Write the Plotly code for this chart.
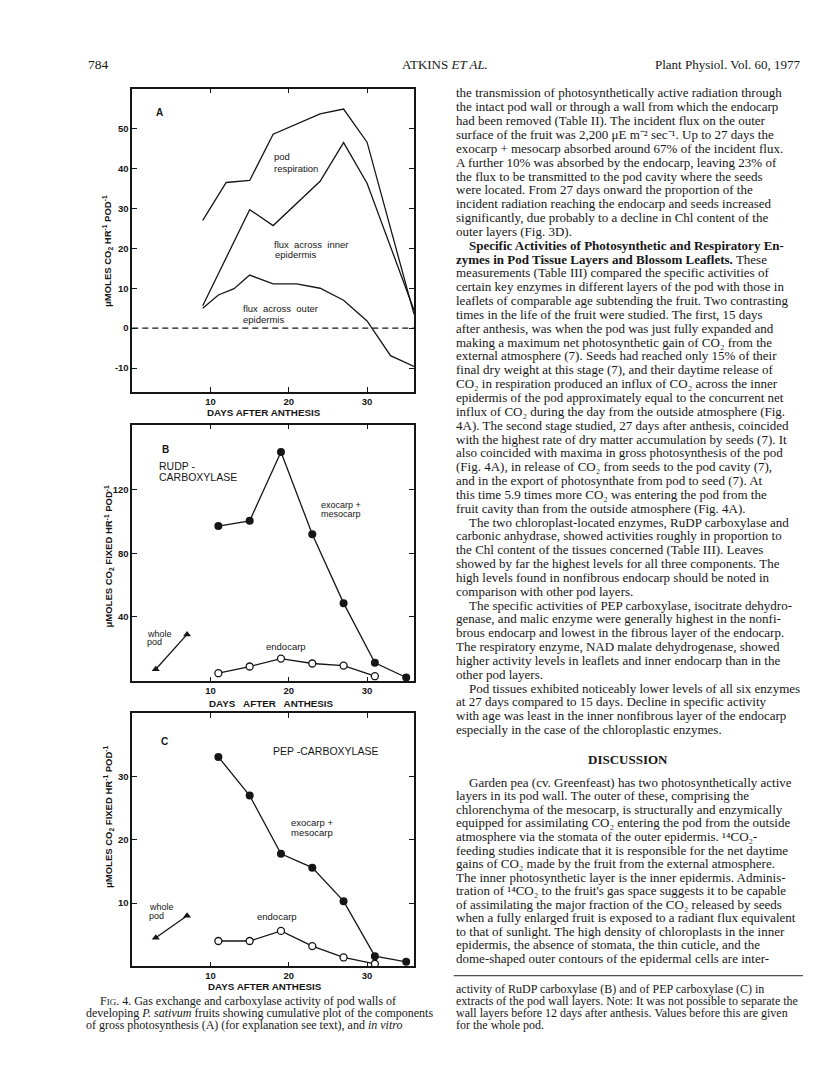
"""Fig. 4 of Atkins et al. (Plant Physiol. 60, 1977): gas exchange and
carboxylase activity of pod walls of developing P. sativum fruits,
laid out as the printed page.
"""

import plotly.graph_objects as go

# ---- panel A: cumulative components of gross photosynthesis ----
A_OUTER_DAYS = [9, 11, 13, 15, 18, 21, 24, 27, 30, 33, 36]
A_OUTER = [5.0, 8.3, 9.9, 13.3, 11.1, 11.1, 10.0, 7.0, 1.8, -6.9, -9.6]
A_INNER_DAYS = [9, 15, 18, 24, 27, 30, 36]
A_INNER = [5.6, 29.7, 25.7, 36.8, 46.5, 36.3, 4.5]
A_RESP_DAYS = [9, 12, 15, 18, 24, 27, 30, 36]
A_RESP = [27.0, 36.5, 37.0, 48.6, 53.7, 54.9, 46.6, 3.5]

# ---- panels B and C: carboxylase activity ----
ENZ_DAYS = [11, 15, 19, 23, 27, 31, 35]
ENDO_DAYS = [11, 15, 19, 23, 27, 31]
WHOLE_DAYS = [3, 7]

B_EXO = [97.2, 100.5, 143.8, 92.0, 48.7, 11.1, 1.9]
B_ENDO = [4.6, 8.8, 13.8, 10.7, 9.4, 2.7]
B_WHOLE = [7.1, 29.0]

C_EXO = [33.1, 27.0, 17.8, 15.6, 10.3, 1.6, 0.7]
C_ENDO = [4.0, 4.0, 5.6, 3.2, 1.4, 0.4]
C_WHOLE = [4.5, 8.0]

X_TICKS = [10, 20, 30]
A_YTICKS = [-10, 0, 10, 20, 30, 40, 50]
B_YTICKS = [40, 80, 120]
C_YTICKS = [10, 20, 30]

# ---- page text ----
BODY_LINES = [
    "the transmission of photosynthetically active radiation through",
    "the intact pod wall or through a wall from which the endocarp",
    "had been removed (Table II). The incident flux on the outer",
    "surface of the fruit was 2,200 \u03bcE m\u207b\u00b2 sec\u207b\u00b9. Up to 27 days the",
    "exocarp + mesocarp absorbed around 67% of the incident flux.",
    "A further 10% was absorbed by the endocarp, leaving 23% of",
    "the flux to be transmitted to the pod cavity where the seeds",
    "were located. From 27 days onward the proportion of the",
    "incident radiation reaching the endocarp and seeds increased",
    "significantly, due probably to a decline in Chl content of the",
    "outer layers (Fig. 3D).",
    "<b>Specific Activities of Photosynthetic and Respiratory En-</b>",
    "<b>zymes in Pod Tissue Layers and Blossom Leaflets.</b> These",
    "measurements (Table III) compared the specific activities of",
    "certain key enzymes in different layers of the pod with those in",
    "leaflets of comparable age subtending the fruit. Two contrasting",
    "times in the life of the fruit were studied. The first, 15 days",
    "after anthesis, was when the pod was just fully expanded and",
    "making a maximum net photosynthetic gain of CO\u2082 from the",
    "external atmosphere (7). Seeds had reached only 15% of their",
    "final dry weight at this stage (7), and their daytime release of",
    "CO\u2082 in respiration produced an influx of CO\u2082 across the inner",
    "epidermis of the pod approximately equal to the concurrent net",
    "influx of CO\u2082 during the day from the outside atmosphere (Fig.",
    "4A). The second stage studied, 27 days after anthesis, coincided",
    "with the highest rate of dry matter accumulation by seeds (7). It",
    "also coincided with maxima in gross photosynthesis of the pod",
    "(Fig. 4A), in release of CO\u2082 from seeds to the pod cavity (7),",
    "and in the export of photosynthate from pod to seed (7). At",
    "this time 5.9 times more CO\u2082 was entering the pod from the",
    "fruit cavity than from the outside atmosphere (Fig. 4A).",
    "The two chloroplast-located enzymes, RuDP carboxylase and",
    "carbonic anhydrase, showed activities roughly in proportion to",
    "the Chl content of the tissues concerned (Table III). Leaves",
    "showed by far the highest levels for all three components. The",
    "high levels found in nonfibrous endocarp should be noted in",
    "comparison with other pod layers.",
    "The specific activities of PEP carboxylase, isocitrate dehydro-",
    "genase, and malic enzyme were generally highest in the nonfi-",
    "brous endocarp and lowest in the fibrous layer of the endocarp.",
    "The respiratory enzyme, NAD malate dehydrogenase, showed",
    "higher activity levels in leaflets and inner endocarp than in the",
    "other pod layers.",
    "Pod tissues exhibited noticeably lower levels of all six enzymes",
    "at 27 days compared to 15 days. Decline in specific activity",
    "with age was least in the inner nonfibrous layer of the endocarp",
    "especially in the case of the chloroplastic enzymes.",
]
BODY_INDENTED = {11, 31, 37, 43}

DISCUSSION_LINES = [
    "Garden pea (cv. Greenfeast) has two photosynthetically active",
    "layers in its pod wall. The outer of these, comprising the",
    "chlorenchyma of the mesocarp, is structurally and enzymically",
    "equipped for assimilating CO\u2082 entering the pod from the outside",
    "atmosphere via the stomata of the outer epidermis. \u00b9\u2074CO\u2082-",
    "feeding studies indicate that it is responsible for the net daytime",
    "gains of CO\u2082 made by the fruit from the external atmosphere.",
    "The inner photosynthetic layer is the inner epidermis. Adminis-",
    "tration of \u00b9\u2074CO\u2082 to the fruit's gas space suggests it to be capable",
    "of assimilating the major fraction of the CO\u2082 released by seeds",
    "when a fully enlarged fruit is exposed to a radiant flux equivalent",
    "to that of sunlight. The high density of chloroplasts in the inner",
    "epidermis, the absence of stomata, the thin cuticle, and the",
    "dome-shaped outer contours of the epidermal cells are inter-",
]

CAPTION_LEFT = [
    "F<span style='font-size:9px'>IG</span>. 4. Gas exchange and carboxylase activity of pod walls of",
    "developing <i>P. sativum</i> fruits showing cumulative plot of the components",
    "of gross photosynthesis (A) (for explanation see text), and <i>in vitro</i>",
]
CAPTION_RIGHT = [
    "activity of RuDP carboxylase (B) and of PEP carboxylase (C) in",
    "extracts of the pod wall layers. Note: It was not possible to separate the",
    "wall layers before 12 days after anthesis. Values before this are given",
    "for the whole pod.",
]

W, H = 816, 1078
INK = "#161616"
SANS = "Liberation Sans"
SERIF = "Liberation Serif"


def px(x):
    return x / W


def py(y):
    return 1 - y / H


def text(fig, x, y, s, size=10, family=SANS, anchor="left", angle=0):
    fig.add_annotation(
        x=px(x), y=py(y), xref="paper", yref="paper", text=s, showarrow=False,
        xanchor=anchor, yanchor="middle", textangle=angle,
        font=dict(family=family, size=size, color=INK),
    )


fig = go.Figure()

line = dict(color=INK, width=1.3)
for days, vals in [(A_OUTER_DAYS, A_OUTER), (A_INNER_DAYS, A_INNER), (A_RESP_DAYS, A_RESP)]:
    fig.add_trace(go.Scatter(x=days, y=vals, mode="lines", line=line, xaxis="x", yaxis="y"))

filled = dict(symbol="circle", size=8, color=INK)
hollow = dict(symbol="circle", size=7, color="white", line=dict(color=INK, width=1.3))
tri = dict(symbol="triangle-up", size=7, color=INK)
for ax, exo, endo, whole in [("2", B_EXO, B_ENDO, B_WHOLE), ("3", C_EXO, C_ENDO, C_WHOLE)]:
    fig.add_trace(go.Scatter(x=ENDO_DAYS, y=endo, mode="lines+markers", line=line,
                             marker=hollow, xaxis="x" + ax, yaxis="y" + ax))
    fig.add_trace(go.Scatter(x=ENZ_DAYS, y=exo, mode="lines+markers", line=line,
                             marker=filled, xaxis="x" + ax, yaxis="y" + ax))
    fig.add_trace(go.Scatter(x=WHOLE_DAYS, y=whole, mode="lines+markers", line=line,
                             marker=tri, xaxis="x" + ax, yaxis="y" + ax))

# zero line of panel A
fig.add_shape(type="line", xref="x domain", yref="y", x0=0, x1=1, y0=0, y1=0,
              line=dict(color=INK, width=1.4, dash="6px,4px"))

x_dom = [px(124.3), px(406)]
axis_common = dict(showline=True, linecolor=INK, linewidth=1.5, mirror="ticks",
                   ticks="inside", ticklen=5, tickwidth=1.3, tickcolor=INK,
                   showgrid=False, zeroline=False,
                   tickfont=dict(family=SANS, size=9.5, color=INK, weight="bold"))


def xaxis(anchor):
    return dict(axis_common, domain=x_dom, anchor=anchor, range=[0, 36],
                tickvals=X_TICKS, ticktext=[str(t) for t in X_TICKS])


def yaxis(anchor, top, bottom, rng, ticks):
    return dict(axis_common, domain=[py(bottom), py(top)], anchor=anchor, range=rng,
                tickvals=ticks, ticktext=[str(t) for t in ticks])


fig.update_layout(
    width=W, height=H, margin=dict(l=0, r=0, t=0, b=0),
    paper_bgcolor="white", plot_bgcolor="white", showlegend=False,
    xaxis=xaxis("y"), yaxis=yaxis("x", 80.7, 384, [-16, 60], A_YTICKS),
    xaxis2=xaxis("y2"), yaxis2=yaxis("x2", 416.7, 673.3, [-0.5, 161], B_YTICKS),
    xaxis3=xaxis("y3"), yaxis3=yaxis("x3", 705.3, 958.3, [0, 40], C_YTICKS),
)

# ---- panel labels ----
text(fig, 146, 104, "<b>A</b>", 10)
text(fig, 264, 148.3, "pod", 9.5)
text(fig, 264, 160.7, "respiration", 9.5)
text(fig, 264, 236.7, "flux  across  inner", 9.5)
text(fig, 264.5, 246.7, "epidermis", 9.5)
text(fig, 232.7, 300.7, "flux  across  outer", 9.5)
text(fig, 233, 311, "epidermis", 9.5)
text(fig, 99, 243, "<b>\u03bcMOLES CO<sub>2</sub> HR<sup>-1</sup> POD<sup>-1</sup></b>", 9.5, anchor="center", angle=-90)
text(fig, 256, 405, "<b>DAYS AFTER ANTHESIS</b>", 9.8, anchor="center")

text(fig, 151.7, 441.7, "<b>B</b>", 10)
text(fig, 149.3, 458.3, "RUDP -", 10.5)
text(fig, 149.3, 469.3, "CARBOXYLASE", 10.5)
text(fig, 311, 496.7, "exocarp +", 9)
text(fig, 311, 505.7, "mesocarp", 9)
text(fig, 137, 625.5, "whole", 9)
text(fig, 137, 634, "pod", 9)
text(fig, 277.7, 638.3, "endocarp", 9.5, anchor="center")
text(fig, 100.5, 548, "<b>\u03bcMOLES CO<sub>2</sub> FIXED HR<sup>-1</sup> POD<sup>-1</sup></b>", 9.5, anchor="center", angle=-90)
text(fig, 263, 695.3, "<b>DAYS   AFTER   ANTHESIS</b>", 9.8, anchor="center")

text(fig, 150.7, 733.3, "<b>C</b>", 10)
text(fig, 263, 742.7, "PEP -CARBOXYLASE", 10.5)
text(fig, 281, 814, "exocarp +", 9.5)
text(fig, 281, 824.3, "mesocarp", 9.5)
text(fig, 139.3, 898.8, "whole", 9)
text(fig, 139.3, 908, "pod", 9)
text(fig, 268.7, 908.3, "endocarp", 9.5, anchor="center")
text(fig, 100, 809, "<b>\u03bcMOLES CO<sub>2</sub> FIXED HR<sup>-1</sup> POD<sup>-1</sup></b>", 9.5, anchor="center", angle=-90)
text(fig, 257, 978, "<b>DAYS AFTER ANTHESIS</b>", 9.8, anchor="center")

# ---- running head ----
text(fig, 78, 56.5, "784", 13.5, SERIF)
text(fig, 437, 56.5, "ATKINS <i>ET AL.</i>", 13, SERIF, anchor="center")
text(fig, 795, 56.5, "Plant Physiol. Vol. 60, 1977", 13, SERIF, anchor="right")

# ---- right column ----
for i, s in enumerate(BODY_LINES):
    text(fig, 445.7 + (13 if i in BODY_INDENTED else 0), 85 + i * 13.84, s, 13, SERIF)
text(fig, 620, 751.7, "<b>DISCUSSION</b>", 13, SERIF, anchor="center")
for j, s in enumerate(DISCUSSION_LINES):
    text(fig, 445.7 + (13 if j == 0 else 0), 774.3 + j * 13.55, s, 13, SERIF)
fig.add_shape(type="line", xref="paper", yref="paper", x0=px(445.7), x1=px(795),
              y0=py(967.7), y1=py(967.7), line=dict(color="#555", width=1.2))
for k, s in enumerate(CAPTION_RIGHT):
    text(fig, 445.7, 980.7 + k * 12.2, s, 12, SERIF)

# ---- figure caption, left column ----
for k, s in enumerate(CAPTION_LEFT):
    text(fig, 76 + (13.5 if k == 0 else 0), 993 + k * 12, s, 12, SERIF)

fig.write_html("out.html")
